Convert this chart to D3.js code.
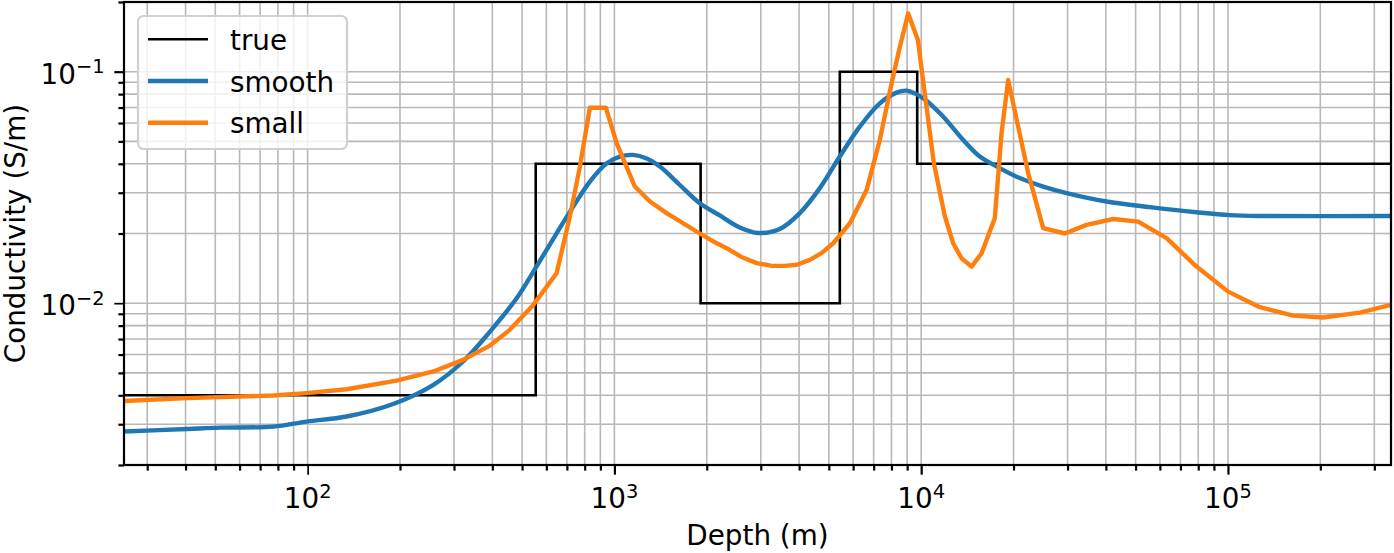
<!DOCTYPE html>
<html><head><meta charset="utf-8">
<script src="https://cdn.jsdelivr.net/npm/d3@7"></script>
<style>body{margin:0;background:#fff} text{font-family:"DejaVu Sans",sans-serif;fill:#000}</style>
</head><body><svg id="c" width="1394" height="553"></svg>
<script>
// ---- data ----
const xTickValues = [1e2, 1e3, 1e4, 1e5];
const xTickExp = ["2", "3", "4", "5"];
const yTickValues = [1e-2, 1e-1];
const yTickExp = ["\u22122", "\u22121"];

const trueDepth = [25.2, 554, 1910, 5430, 9705, 340000];
const trueSigma = [0.004, 0.04, 0.01, 0.1, 0.04, 0.04];

const smoothDepth = [25.2, 40.4, 51.8, 77.3, 99.3, 134, 190, 257, 321, 393, 480, 557, 648, 734, 832, 944, 1042, 1151, 1274, 1407, 1634, 1899, 2206, 2563, 2942, 3462, 4022, 4673, 5429, 6308, 7330, 8315, 8960, 10160, 11800, 13710, 15530, 18060, 20470, 24990, 29790, 40190, 55600, 79000, 101400, 130200, 340000];
const smoothSigma = [0.00279, 0.00286, 0.00290, 0.00293, 0.00308, 0.00324, 0.00367, 0.00444, 0.0056, 0.00754, 0.0105, 0.01439, 0.02004, 0.02612, 0.0335, 0.0402, 0.0430, 0.0437, 0.0422, 0.0389, 0.0324, 0.0270, 0.02393, 0.02125, 0.02011, 0.02093, 0.0245, 0.0314, 0.0430, 0.0579, 0.0730, 0.0812, 0.0828, 0.0767, 0.0639, 0.0507, 0.0430, 0.0383, 0.0352, 0.0319, 0.0299, 0.0275, 0.0260, 0.0247, 0.0240, 0.0238, 0.0238];

const smallDepth = [25.2, 40.4, 77.3, 99.3, 134, 195, 257, 321, 393, 456, 544, 648, 716, 772, 832, 938, 1017, 1166, 1305, 1480, 1899, 2094, 2321, 2584, 2908, 3237, 3595, 3934, 4338, 4746, 5166, 5856, 6639, 7330, 8009, 8523, 9071, 9755, 10340, 11000, 11950, 12710, 13540, 14600, 15740, 17380, 18280, 19210, 20710, 22330, 24990, 29410, 34600, 42250, 50970, 63070, 79000, 100150, 127000, 163100, 204300, 269000, 340000];
const smallSigma = [0.00378, 0.00389, 0.00399, 0.00409, 0.00425, 0.00463, 0.00507, 0.00569, 0.00656, 0.00767, 0.00983, 0.01347, 0.02366, 0.0389, 0.0699, 0.0699, 0.0491, 0.0319, 0.0275, 0.0245, 0.0200, 0.01852, 0.01728, 0.01588, 0.0149, 0.01452, 0.01449, 0.01466, 0.01538, 0.01649, 0.01815, 0.02215, 0.0308, 0.0507, 0.0891, 0.1282, 0.1786, 0.1370, 0.0755, 0.0402, 0.0237, 0.01815, 0.01563, 0.01439, 0.01643, 0.0233, 0.0542, 0.0921, 0.0579, 0.0364, 0.0211, 0.0200, 0.0218, 0.0231, 0.0225, 0.0191, 0.01439, 0.01122, 0.00961, 0.00884, 0.00867, 0.00911, 0.00984];

const legendLabels = ["true", "smooth", "small"];
const colors = {true: "#000000", smooth: "#1f77b4", small: "#ff7f0e"};

// ---- layout ----
const L = 124, R = 1391, T = 2, B = 465;
const FS = 27.8;
const svg = d3.select("#c");
const x = d3.scaleLog().domain([25.2, 340000]).range([L, R]);
const y = d3.scaleLog().domain([0.002, 0.2]).range([B, T]);

function minors(lo, hi, d0, d1) {
  const out = [];
  for (let e = d0; e <= d1; e++) for (let k = 2; k <= 9; k++) {
    const v = k * Math.pow(10, e);
    if (v >= lo * 0.9999 && v <= hi * 1.0001) out.push(v);
  }
  return out;
}
const xMinor = minors(25.2, 340000, 1, 5);
const yMinor = minors(0.002, 0.2, -3, -1);

// grid
const grid = svg.append("g").attr("stroke", "#b8b8b8").attr("stroke-width", 1.6);
xTickValues.concat(xMinor).forEach(v => grid.append("line").attr("x1", x(v)).attr("x2", x(v)).attr("y1", T).attr("y2", B));
yTickValues.concat(yMinor).forEach(v => grid.append("line").attr("y1", y(v)).attr("y2", y(v)).attr("x1", L).attr("x2", R));

// lines
svg.append("clipPath").attr("id", "clip").append("rect").attr("x", L).attr("y", T).attr("width", R - L).attr("height", B - T);
const plot = svg.append("g").attr("clip-path", "url(#clip)");
const stepGen = d3.line().x(d => x(d[0])).y(d => y(d[1])).curve(d3.curveStepAfter);
const smoothGen = d3.line().x(d => x(d[0])).y(d => y(d[1])).curve(d3.curveCatmullRom.alpha(0.5));
const linGen = d3.line().x(d => x(d[0])).y(d => y(d[1]));
plot.append("path").datum(trueDepth.map((d, i) => [d, trueSigma[i]]))
  .attr("d", stepGen).attr("fill", "none").attr("stroke", colors.true).attr("stroke-width", 2.6);
plot.append("path").datum(smoothDepth.map((d, i) => [d, smoothSigma[i]]))
  .attr("d", smoothGen).attr("fill", "none").attr("stroke", colors.smooth).attr("stroke-width", 4.4).attr("stroke-linejoin", "round");
plot.append("path").datum(smallDepth.map((d, i) => [d, smallSigma[i]]))
  .attr("d", linGen).attr("fill", "none").attr("stroke", colors.small).attr("stroke-width", 4.4).attr("stroke-linejoin", "round");

// axes (ticks)
const ax = svg.append("g").attr("transform", `translate(0,${B})`);
ax.call(d3.axisBottom(x).tickValues(xTickValues).tickSize(9.7).tickFormat(() => ""));
ax.append("g").call(d3.axisBottom(x).tickValues(xMinor).tickSize(5.6).tickFormat(() => ""));
const ay = svg.append("g").attr("transform", `translate(${L},0)`);
ay.call(d3.axisLeft(y).tickValues(yTickValues).tickSize(9.7).tickFormat(() => ""));
ay.append("g").call(d3.axisLeft(y).tickValues(yMinor).tickSize(5.6).tickFormat(() => ""));
svg.selectAll(".domain").remove();
ax.selectAll(".tick line").attr("stroke-width", 2.2).attr("stroke", "#000");
ay.selectAll(".tick line").attr("stroke-width", 2.2).attr("stroke", "#000");
ax.select("g").selectAll(".tick line").attr("stroke-width", 1.7);
ay.select("g").selectAll(".tick line").attr("stroke-width", 1.7);

// tick labels
xTickValues.forEach((v, i) => {
  const t = svg.append("text").attr("x", x(v)).attr("y", 508).attr("text-anchor", "middle").attr("font-size", FS);
  t.append("tspan").text("10");
  t.append("tspan").attr("dy", -10.5).attr("font-size", FS * 0.7).text(xTickExp[i]);
});
yTickValues.forEach((v, i) => {
  const t = svg.append("text").attr("x", 104.6).attr("y", y(v) + 12).attr("text-anchor", "end").attr("font-size", FS);
  t.append("tspan").text("10");
  t.append("tspan").attr("dy", -10.5).attr("font-size", FS * 0.7).text(yTickExp[i]);
});

// spines
svg.append("rect").attr("x", L).attr("y", T).attr("width", R - L).attr("height", B - T)
  .attr("fill", "none").attr("stroke", "#000").attr("stroke-width", 2.2);

// axis labels
svg.append("text").attr("x", (L + R) / 2).attr("y", 545).attr("text-anchor", "middle").attr("font-size", FS).text("Depth (m)");
svg.append("text").attr("transform", `translate(25,${(T + B) / 2}) rotate(-90)`).attr("text-anchor", "middle").attr("font-size", FS).text("Conductivity (S/m)");

// legend
const lg = svg.append("g");
lg.append("rect").attr("x", 138).attr("y", 16).attr("width", 209).attr("height", 133).attr("rx", 5.5)
  .attr("fill", "#fff").attr("fill-opacity", 0.8).attr("stroke", "#d0d0d0").attr("stroke-width", 2.2);
const lw = [2.6, 4.4, 4.4];
legendLabels.forEach((lab, i) => {
  const yy = 39.3 + i * 41.7;
  lg.append("line").attr("x1", 148).attr("x2", 208).attr("y1", yy).attr("y2", yy).attr("stroke", colors[lab]).attr("stroke-width", lw[i]);
  lg.append("text").attr("x", 230).attr("y", yy + 10.5).attr("font-size", FS).text(lab);
});
</script></body></html>
